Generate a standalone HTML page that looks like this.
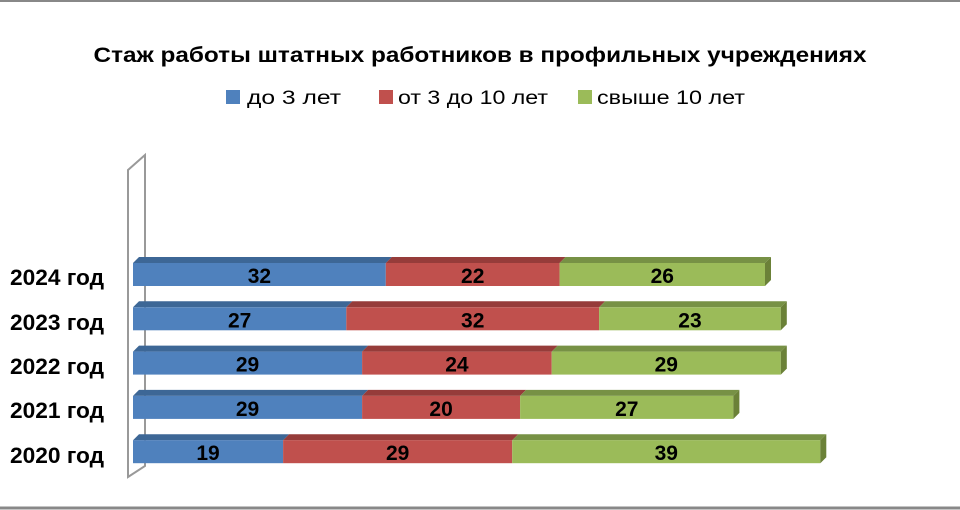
<!DOCTYPE html>
<html><head><meta charset="utf-8"><style>
body{margin:0;background:#fff}
svg{display:block;font-family:"Liberation Sans",sans-serif}
</style></head><body>
<svg width="960" height="510" viewBox="0 0 960 510">
<rect x="0" y="0" width="960" height="510" fill="#fff"/>
<line x1="0" y1="1" x2="960" y2="1" stroke="#888" stroke-width="2"/>
<line x1="0" y1="508" x2="960" y2="508" stroke="#888" stroke-width="3"/>
<text x="480" y="62" text-anchor="middle" font-size="21" font-weight="bold" textLength="773" lengthAdjust="spacingAndGlyphs">Стаж работы  штатных работников  в профильных учреждениях</text>
<g font-size="19">
<rect x="226" y="90" width="14" height="14" fill="#4f81bd"/>
<text x="247" y="104" textLength="94" lengthAdjust="spacingAndGlyphs">до  3 лет</text>
<rect x="379" y="90" width="14" height="14" fill="#c0504d"/>
<text x="398" y="104" textLength="150" lengthAdjust="spacingAndGlyphs">от 3 до 10 лет</text>
<rect x="578" y="90" width="14" height="14" fill="#9bbb59"/>
<text x="597" y="104" textLength="148" lengthAdjust="spacingAndGlyphs">свыше 10 лет</text>
</g>
<polygon points="128,170 145,155 145,466 128,477" fill="none" stroke="#999" stroke-width="2"/>
<g id="bars"></g>
<g font-size="22" font-weight="bold">
<text x="10" y="285" textLength="94" lengthAdjust="spacingAndGlyphs">2024 год</text>
<text x="10" y="330" textLength="94" lengthAdjust="spacingAndGlyphs">2023 год</text>
<text x="10" y="374" textLength="94" lengthAdjust="spacingAndGlyphs">2022 год</text>
<text x="10" y="418" textLength="94" lengthAdjust="spacingAndGlyphs">2021 год</text>
<text x="10" y="463" textLength="94" lengthAdjust="spacingAndGlyphs">2020 год</text>
</g>
</svg>
<script>
var d=[[32,22,26],[27,32,23],[29,24,29],[29,20,27],[19,29,39]];
var fc=["#4f81bd","#c0504d","#9bbb59"],tc=["#3d6796","#963c3a","#779145"],sc=["#3d6796","#963c3a","#6b8138"];
var g=document.getElementById("bars"),s=7.9,h="";
d.forEach(function(r,i){var y=263+i*44.3,x=133;
r.forEach(function(v,j){var w=v*s;
h+='<polygon points="'+x+','+y+' '+(x+6)+','+(y-6)+' '+(x+w+6)+','+(y-6)+' '+(x+w)+','+y+'" fill="'+tc[j]+'"/>';
h+='<rect x="'+x+'" y="'+y+'" width="'+w+'" height="23" fill="'+fc[j]+'"/>';
h+='<text x="'+(x+w/2)+'" y="'+(y+20)+'" font-size="21" font-weight="bold" text-anchor="middle">'+v+'</text>';
x+=w;
if(j==2)h+='<polygon points="'+x+','+y+' '+(x+6)+','+(y-6)+' '+(x+6)+','+(y+17)+' '+x+','+(y+23)+'" fill="'+sc[j]+'"/>';
});});
g.innerHTML=h;
</script>
</body></html>
